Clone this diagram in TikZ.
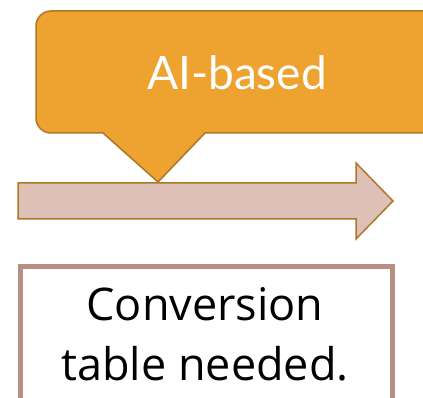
\documentclass[tikz,border=0pt]{standalone}
\usepackage{fontspec}
\setmainfont{Open Sans}
\newfontfamily\bubblefont{Lato}
\usetikzlibrary{positioning}
\definecolor{amber}{HTML}{EEA22F}
\definecolor{amberline}{HTML}{AE7628}
\definecolor{rosefill}{HTML}{DEC1B6}
\definecolor{roseline}{HTML}{B98E84}

\begin{document}
\begin{tikzpicture}[x=1pt,y=-1pt,
    bubble/.style={fill=amber,draw=amberline,line width=1.5pt,line join=miter},
    bubbletext/.style={text=white,font=\bubblefont\fontsize{46}{55}\selectfont,inner sep=0pt},
    flowarrow/.style={fill=rosefill,draw=amberline,line width=1.5pt},
    notebox/.style={draw=roseline,line width=5pt,fill=white,outer sep=0pt,inner sep=0pt},
    notetext/.style={align=center,font=\fontsize{45}{60}\selectfont,inner sep=0pt}]
\useasboundingbox (0,0) rectangle (423,398);
\clip (0,0) rectangle (423,398);

% callout
\coordinate (tip) at (158,182);
\draw[bubble] (70,11) [rounded corners=15pt] -- (36,11) -- (36,133) -- (70,133)
  [sharp corners] -- (103,133) -- (tip) -- (205,133) -- (440,133) -- (440,11) -- cycle;
\node[bubbletext,anchor=base] (ailabel) at (237,90) {AI-based};

% timeline arrow
\coordinate (tail) at (18,201);
\coordinate (head) at (393,201);
\draw[flowarrow] (18,183) -- (356,183) -- (356,163) -- (head)
  -- (356,239) -- (356,219) -- (18,219) -- cycle;

% note
\node[notebox,anchor=north west,minimum width=372pt,minimum height=170pt] (note) at (20,266) {};
\node[notetext,anchor=base] (conv) at (205,380) {Conversion\\table needed.};
\end{tikzpicture}
\end{document}
